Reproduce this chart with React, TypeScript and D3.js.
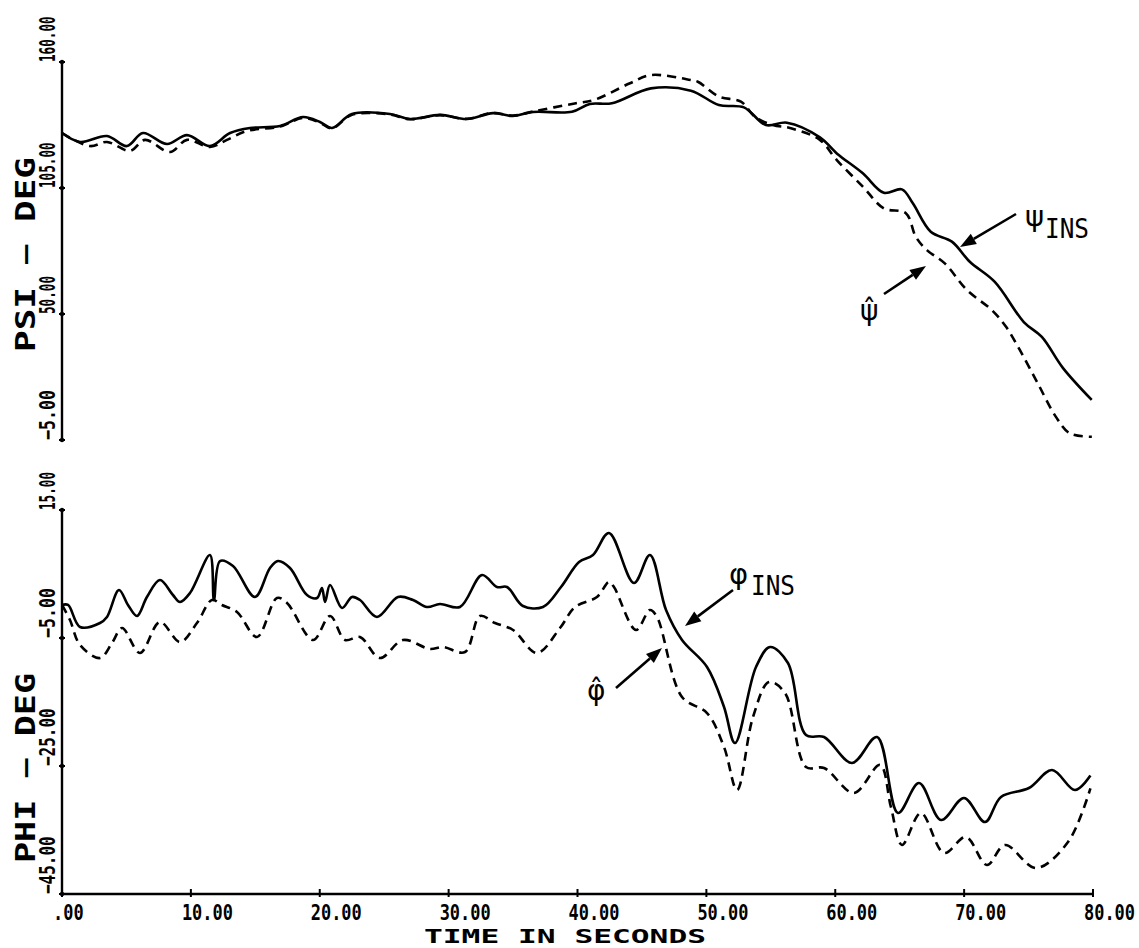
import React from "react";
import * as d3 from "d3";

// ---------------- DATA ----------------
const timeTicks = [0, 10, 20, 30, 40, 50, 60, 70, 80];
const timeTickLabels = [".00", "10.00", "20.00", "30.00", "40.00", "50.00", "60.00", "70.00", "80.00"];
const psiTicks = [160, 105, 50, -5];
const psiTickLabels = ["160.00", "105.00", "50.00", "−5.00"];
const phiTicks = [15, -5, -25, -45];
const phiTickLabels = ["15.00", "−5.00", "−25.00", "−45.00"];

// PSI (heading) — INS reference (solid)
const psiIns: [number, number][] = [
  [0, 129.0], [1.4, 125.1], [3.49, 127.7], [5.04, 123.3], [6.28, 129.0], [8.15, 124.2], [9.7, 128.1],
  [11.48, 123.3], [13.04, 129.0], [14.59, 131.2], [16.92, 132.1], [18.7, 136.0], [20.02, 133.8],
  [20.95, 131.2], [22.5, 137.3], [25.45, 137.3], [27.0, 135.1], [29.33, 136.9], [31.43, 135.1],
  [33.44, 137.7], [34.99, 136.4], [36.55, 138.2], [39.57, 138.3], [40.96, 141.7], [42.67, 142.0],
  [45.69, 148.5], [48.8, 147.5], [50.97, 141.2], [52.91, 140.2], [54.62, 132.5], [56.25, 133.5],
  [58.81, 127.1], [60.12, 120.1], [62.14, 111.4], [63.77, 102.9], [65.17, 104.4], [66.02, 98.3],
  [67.41, 85.9], [69.05, 81.6], [70.44, 72.8], [72.38, 64.0], [74.63, 46.5], [76.03, 40.0],
  [77.66, 26.5], [79.9, 12.5],
];
// PSI — estimate (dashed)
const psiHat: [number, number][] = [
  [0, 129.0], [2.17, 123.3], [3.49, 125.1], [5.28, 121.2], [6.44, 126.0], [8.38, 120.7], [9.7, 126.0],
  [11.48, 122.9], [12.8, 126.0], [14.35, 129.9], [16.92, 131.8], [18.7, 135.6], [20.02, 133.5],
  [20.95, 131.0], [22.5, 137.0], [25.45, 137.1], [27.0, 135.0], [29.33, 136.8], [31.43, 135.2],
  [33.44, 137.8], [34.99, 136.6], [36.55, 138.4], [39.88, 142.0], [41.27, 143.4], [44.07, 150.7],
  [45.69, 154.3], [48.8, 152.1], [49.34, 151.4], [50.97, 144.9], [52.68, 142.7], [53.76, 136.1],
  [55.16, 132.5], [56.56, 131.1], [58.81, 126.0], [60.12, 117.2], [62.14, 105.6], [63.77, 96.1],
  [65.48, 94.0], [66.25, 83.7], [67.11, 77.9], [68.5, 72.1], [70.21, 60.5], [72.15, 51.7],
  [73.24, 44.5], [74.32, 34.3], [75.72, 19.7], [77.11, 5.2], [78.2, -2.1], [79.91, -3.6],
];

// PHI (roll) — INS reference (solid)
const phiIns: [number, number][] = [
  [0, 0.16], [0.47, 0.16], [1.4, -3.28], [2.95, -2.66], [3.49, -1.72], [4.42, 2.5], [5.12, 0.16],
  [5.82, -1.56], [6.59, 1.41], [7.6, 4.06], [8.61, 1.72], [9.16, 0.63], [9.93, 2.03], [11.48, 7.97],
  [11.79, 0.94], [12.26, 7.03], [13.27, 6.25], [14.97, 1.41], [16.14, 5.94], [16.76, 7.03],
  [17.69, 5.94], [19.01, 1.72], [19.79, 1.25], [20.17, 2.81], [20.41, 0.63], [20.8, 3.28],
  [21.73, -0.31], [22.5, 1.41], [23.12, 0.94], [24.44, -1.72], [26.07, 1.41], [27.24, 0.94],
  [28.32, -0.16], [29.33, 0.31], [30.88, -0.16], [32.59, 4.84], [33.75, 2.97], [34.53, 2.97],
  [35.77, 0.0], [37.32, -0.16], [38.72, 2.97], [40.12, 6.88], [41.2, 7.97], [42.44, 11.41],
  [44.38, 3.59], [45.62, 7.97], [46.87, -0.63], [48.11, -5.31], [50.05, -9.53], [51.37, -15.78],
  [52.22, -21.41], [53.85, -9.53], [54.94, -6.41], [56.33, -8.91], [57.73, -20.16], [59.13, -20.47],
  [61.3, -24.53], [63.24, -20.47], [64.87, -32.34], [66.5, -27.66], [68.21, -33.44], [69.99, -30.0],
  [71.62, -33.75], [72.86, -29.84], [75.03, -28.44], [76.82, -25.63], [78.6, -28.75], [79.8, -26.5],
];
// PHI — estimate (dashed)
const phiHat: [number, number][] = [
  [0, 0.16], [0.62, -2.19], [1.4, -6.09], [2.95, -8.13], [3.88, -5.78], [4.66, -3.44], [6.05, -7.34],
  [7.6, -2.5], [9.16, -5.63], [10.47, -2.66], [11.64, 0.94], [12.41, 0.16], [13.58, -0.94],
  [15.13, -4.84], [16.68, 1.25], [17.46, 0.47], [19.48, -5.31], [20.8, -1.56], [21.96, -5.31],
  [23.12, -4.84], [24.67, -8.13], [26.46, -5.31], [28.55, -6.72], [29.56, -6.41], [31.27, -7.19],
  [32.43, -1.56], [33.6, -2.66], [35.0, -3.75], [36.86, -7.34], [38.64, -3.44], [39.81, -0.16],
  [41.51, 1.41], [42.44, 3.75], [42.83, 2.97], [44.54, -3.75], [45.62, -0.63], [46.17, -1.72],
  [48.11, -14.22], [50.05, -16.72], [51.37, -22.03], [52.38, -28.75], [53.62, -17.34], [54.86, -11.88],
  [56.1, -13.59], [57.73, -25.16], [59.13, -25.31], [61.45, -29.22], [63.47, -24.84], [64.32, -31.41],
  [65.18, -37.34], [66.65, -32.34], [68.44, -38.59], [70.14, -36.09], [71.77, -40.47], [73.17, -37.34],
  [75.58, -40.94], [78.06, -36.88], [79.8, -28.5],
];

// ---------------- LAYOUT ----------------
const W = 1139;
const H = 948;
const FONT = "'DejaVu Sans Mono', monospace";

const x = d3.scaleLinear().domain([0, 80]).range([62, 1093]);
const yPsi = d3.scaleLinear().domain([-5, 160]).range([440, 62]);
const yPhi = d3.scaleLinear().domain([-45, 15]).range([894, 510]);

const mkLine = (y: d3.ScaleLinear<number, number>) =>
  d3
    .line<[number, number]>()
    .x((d) => x(d[0]))
    .y((d) => y(d[1]))
    .curve(d3.curveCatmullRom.alpha(0.5));

function Arrow({ x1, y1, x2, y2 }: { x1: number; y1: number; x2: number; y2: number }) {
  const ang = Math.atan2(y2 - y1, x2 - x1);
  const len = 16;
  const wid = 6;
  const bx = x2 - len * Math.cos(ang);
  const by = y2 - len * Math.sin(ang);
  const px = -Math.sin(ang) * wid;
  const py = Math.cos(ang) * wid;
  return (
    <g>
      <line x1={x1} y1={y1} x2={bx} y2={by} stroke="#000" strokeWidth={2.6} />
      <path d={`M${x2},${y2}L${bx + px},${by + py}L${bx - px},${by - py}Z`} fill="#000" />
    </g>
  );
}

function YAxis({
  scale,
  ticks,
  labels,
}: {
  scale: d3.ScaleLinear<number, number>;
  ticks: number[];
  labels: string[];
}) {
  const [d0, d1] = scale.domain();
  return (
    <g>
      <line x1={62} x2={62} y1={scale(d1)} y2={scale(d0)} stroke="#000" strokeWidth={2.4} />
      {ticks.map((t, i) => (
        <g key={i}>
          <line x1={59} x2={65} y1={scale(t)} y2={scale(t)} stroke="#000" strokeWidth={2} />
          <circle cx={62} cy={scale(t)} r={2.2} fill="#000" />
          <text
            transform={`translate(55,${scale(t)}) rotate(-90)`}
            fontFamily={FONT}
            fontWeight="bold"
            fontSize={22}
            textLength={labels[i].length * 7.6 + (labels[i].startsWith("−") ? 12 : 0)}
            lengthAdjust="spacingAndGlyphs"
          >
            {labels[i]}
          </text>
        </g>
      ))}
    </g>
  );
}

export default function App() {
  const lPsi = mkLine(yPsi);
  const lPhi = mkLine(yPhi);
  return (
    <svg
      width={W}
      height={H}
      viewBox={`0 0 ${W} ${H}`}
      style={{ position: "absolute", left: 0, top: 0, background: "#fff" }}
    >
      <rect x={0} y={0} width={W} height={H} fill="#fff" />

      {/* Axes */}
      <YAxis scale={yPsi} ticks={psiTicks} labels={psiTickLabels} />
      <YAxis scale={yPhi} ticks={phiTicks} labels={phiTickLabels} />
      <line x1={x(0)} x2={x(80)} y1={894} y2={894} stroke="#000" strokeWidth={2.4} />
      {timeTicks.map((t, i) => (
        <g key={i}>
          <line x1={x(t)} x2={x(t)} y1={889} y2={897} stroke="#000" strokeWidth={2} />
          <text
            x={x(t) - 9}
            y={920}
            fontFamily={FONT}
            fontWeight="bold"
            fontSize={21}
            textLength={timeTickLabels[i].length * 10.2}
            lengthAdjust="spacingAndGlyphs"
          >
            {timeTickLabels[i]}
          </text>
        </g>
      ))}

      {/* Axis titles */}
      <text
        x={424}
        y={943}
        fontFamily={FONT}
        fontWeight="bold"
        fontSize={19}
        textLength={282}
        lengthAdjust="spacingAndGlyphs"
      >
        TIME IN SECONDS
      </text>
      <text
        transform="translate(35,352) rotate(-90)"
        fontFamily={FONT}
        fontWeight="bold"
        fontSize={26}
        textLength={195}
        lengthAdjust="spacingAndGlyphs"
      >
        PSI − DEG
      </text>
      <text
        transform="translate(35,863) rotate(-90)"
        fontFamily={FONT}
        fontWeight="bold"
        fontSize={26}
        textLength={190}
        lengthAdjust="spacingAndGlyphs"
      >
        PHI − DEG
      </text>

      {/* Curves */}
      <path d={lPsi(psiIns) || ""} fill="none" stroke="#000" strokeWidth={2.6} strokeLinejoin="round" />
      <path d={lPsi(psiHat) || ""} fill="none" stroke="#000" strokeWidth={2.6} strokeDasharray="9,6" />
      <path d={lPhi(phiIns) || ""} fill="none" stroke="#000" strokeWidth={2.6} strokeLinejoin="round" />
      <path d={lPhi(phiHat) || ""} fill="none" stroke="#000" strokeWidth={2.6} strokeDasharray="9,6" />

      {/* Annotations: psi */}
      <text x={1025} y={226} fontFamily="'DejaVu Sans', sans-serif" fontSize={29}>ψ</text>
      <text x={1045} y={238} fontFamily={FONT} fontSize={27} textLength={44} lengthAdjust="spacingAndGlyphs">INS</text>
      <Arrow x1={1016} y1={214} x2={960} y2={247} />
      <text x={860} y={320} fontFamily="'DejaVu Sans', sans-serif" fontSize={28}>ψ̂</text>
      <Arrow x1={884} y1={294} x2={926} y2={266} />

      {/* Annotations: phi */}
      <text x={729} y={584} fontFamily="'DejaVu Sans', sans-serif" fontSize={29}>φ</text>
      <text x={751} y={595} fontFamily={FONT} fontSize={27} textLength={44} lengthAdjust="spacingAndGlyphs">INS</text>
      <Arrow x1={733} y1={590} x2={685} y2={626} />
      <text x={587} y={700} fontFamily="'DejaVu Sans', sans-serif" fontSize={28}>φ̂</text>
      <Arrow x1={616} y1={688} x2={662} y2={648} />
    </svg>
  );
}
